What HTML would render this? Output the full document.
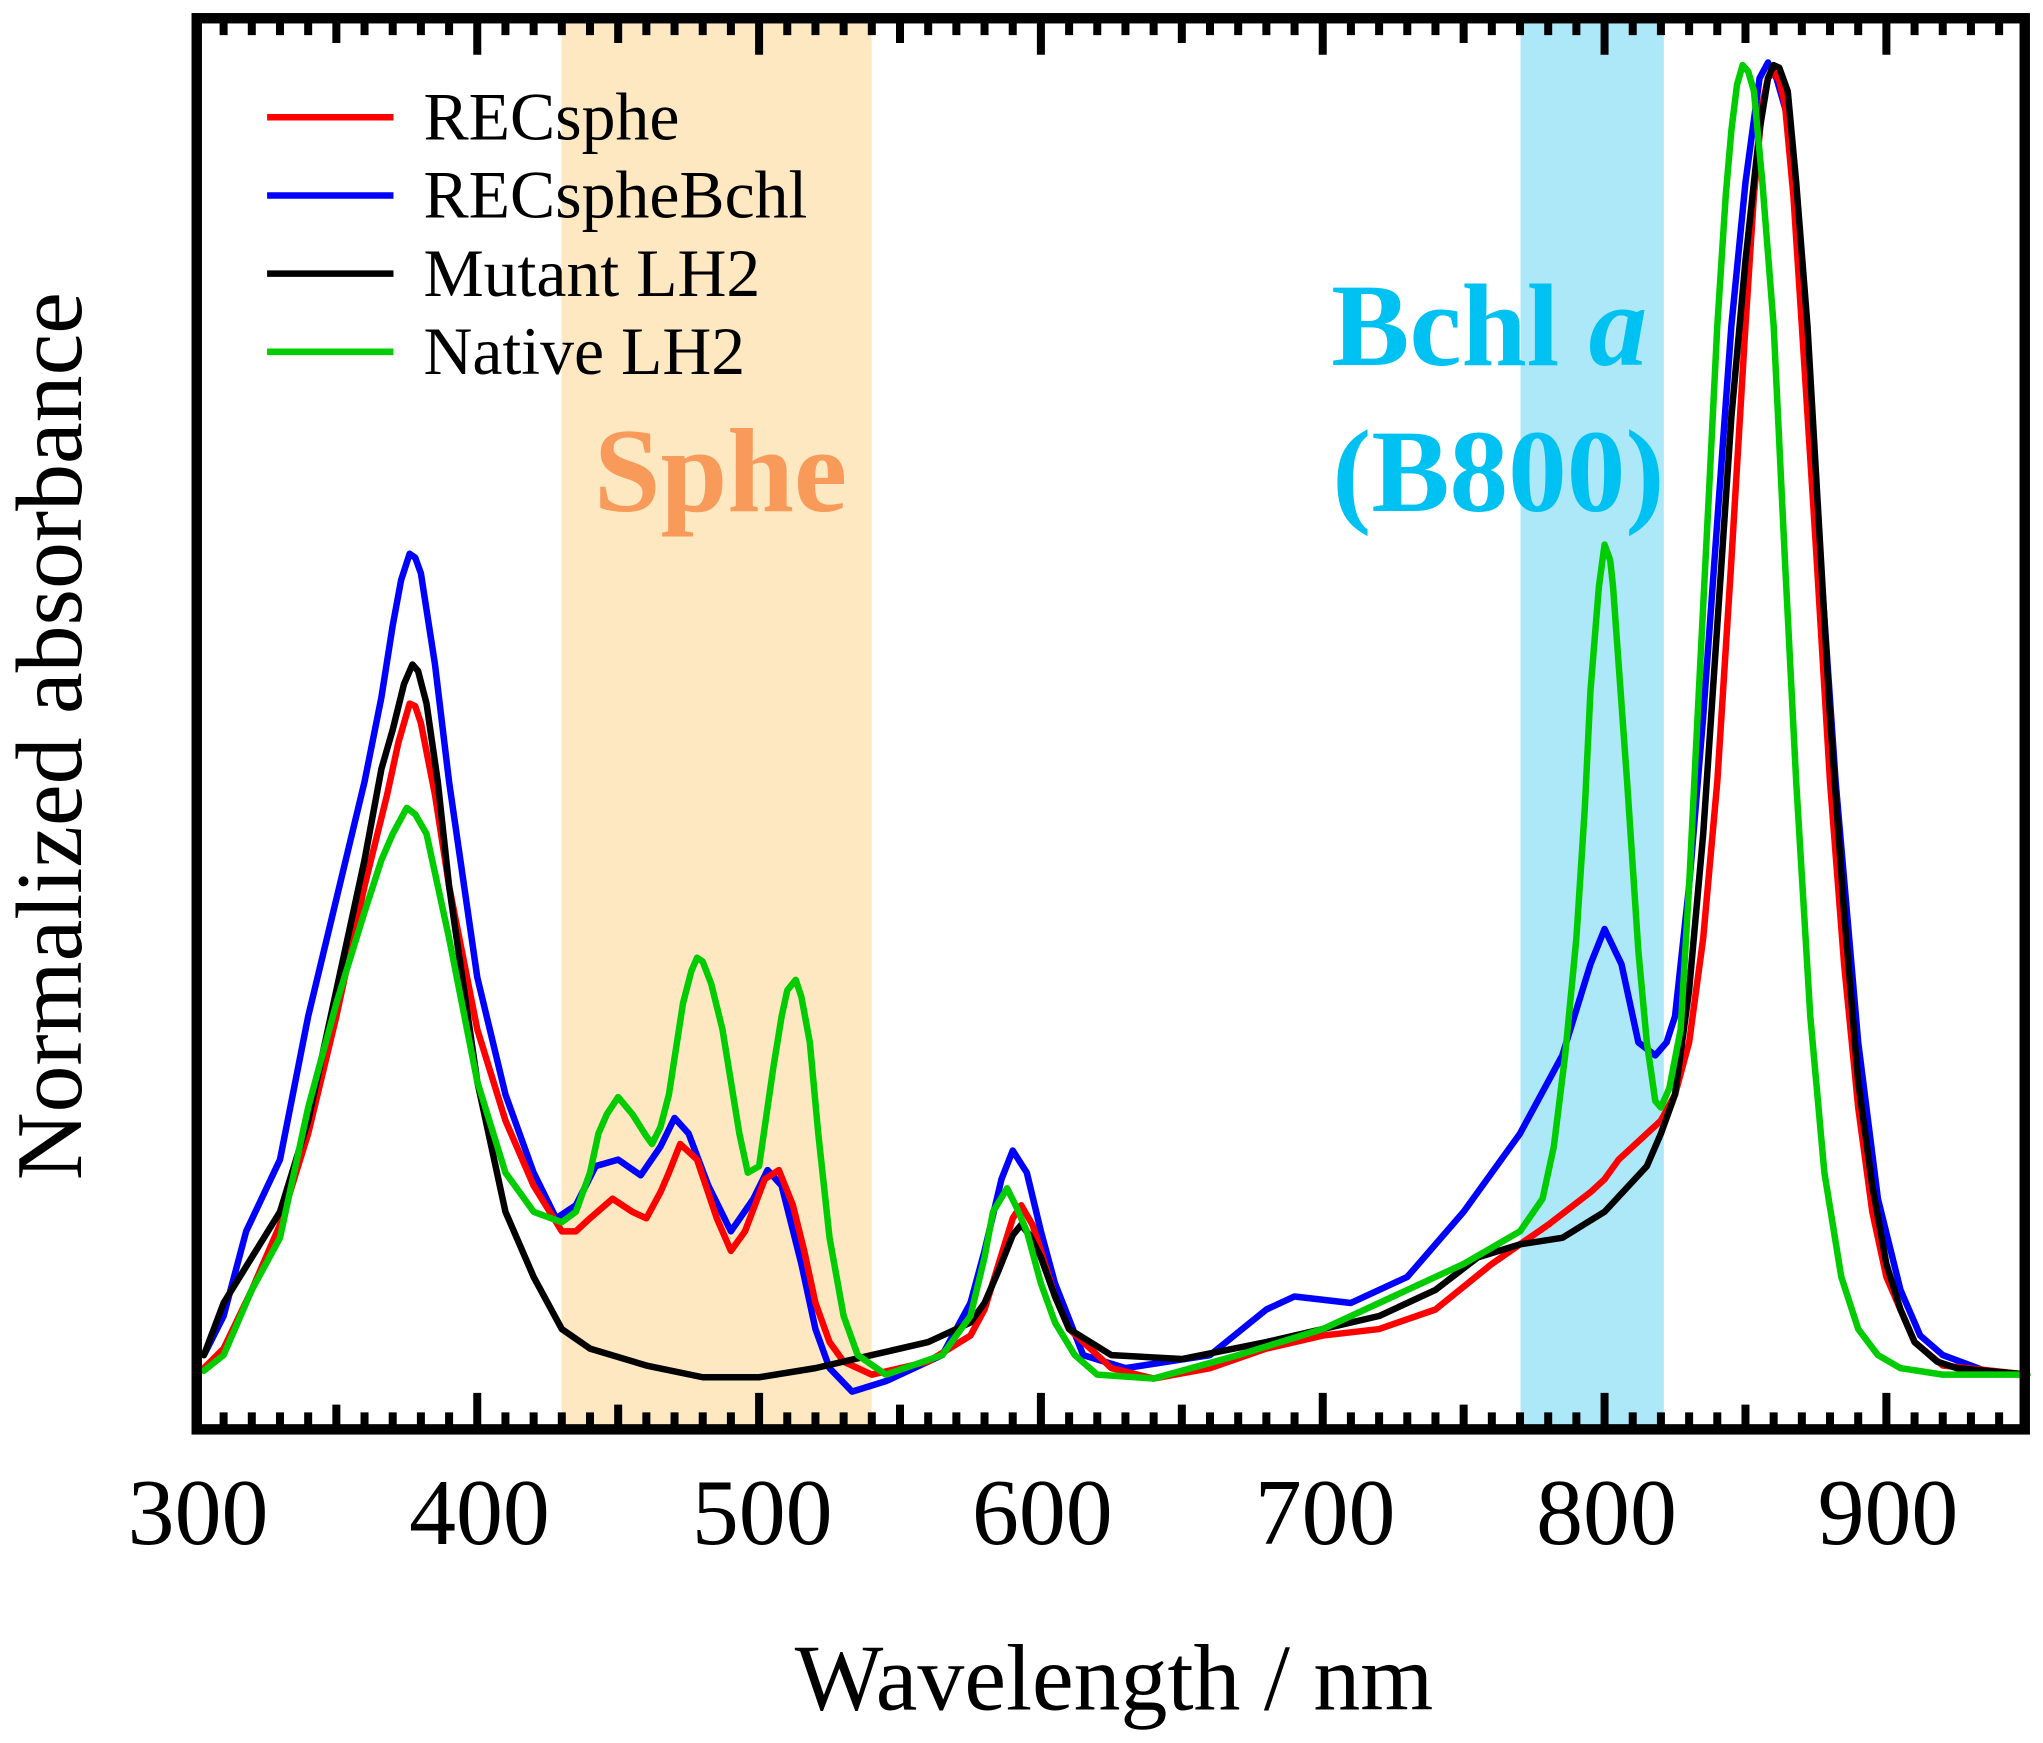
<!DOCTYPE html>
<html><head><meta charset="utf-8"><style>html,body{margin:0;padding:0;background:#fff}svg{display:block}</style></head>
<body>
<svg xmlns="http://www.w3.org/2000/svg" width="2043" height="1743" viewBox="0 0 1568 1337.7" preserveAspectRatio="none" font-family="'Liberation Serif', serif">
<rect x="431" y="14" width="238" height="1080" fill="#fde8c2"/>
<rect x="1167" y="14" width="110" height="1080" fill="#ade8f8"/>
<g transform="matrix(2.163,0,0,1,-498.9,0)" fill="none" stroke-width="6.5" stroke-linejoin="round" stroke-linecap="round">
<polyline vector-effect="non-scaling-stroke" stroke="#00f" points="303,1040 310,1010 318,945 330,890 340,780 350,690 360,600 366,535 370,480 373,445 376,425 378,428 380,440 385,510 390,600 400,750 410,840 420,900 428,935 435,925 442,895 450,890 458,902 465,880 470,858 475,870 482,910 490,945 498,920 503,898 508,910 515,970 520,1020 525,1050 533,1068 545,1060 565,1040 575,1000 580,960 586,905 590,883 595,900 600,945 605,985 615,1040 630,1050 660,1040 680,1005 690,995 710,1000 730,980 750,930 770,870 785,810 790,775 795,740 800,713 806,740 812,800 818,810 822,800 825,780 830,680 835,550 840,400 845,250 850,140 855,60 858,48 861,60 865,90 870,220 875,380 882,600 890,800 897,920 905,990 912,1025 920,1040 935,1052 950,1055"/>
<polyline vector-effect="non-scaling-stroke" stroke="#f00" points="303,1050 310,1035 320,990 330,940 340,870 350,780 360,680 368,610 372,570 376,540 378,542 380,555 385,610 390,680 400,790 410,860 420,910 430,945 435,945 440,935 448,920 455,930 460,935 465,915 468,900 472,878 478,890 485,935 490,960 495,945 502,905 507,898 512,925 516,960 520,1000 525,1030 530,1045 540,1055 560,1045 575,1025 580,1005 585,970 590,935 593,925 597,940 600,960 605,995 610,1020 625,1050 640,1058 660,1050 680,1035 700,1025 720,1020 740,1005 760,970 780,940 795,915 800,905 805,890 810,880 820,860 825,840 830,800 835,720 840,600 845,430 850,250 853,150 856,80 858,60 860,55 862,62 864,80 867,150 870,250 875,420 880,600 885,740 890,850 895,930 900,980 910,1030 920,1048 950,1055"/>
<polyline vector-effect="non-scaling-stroke" stroke="#000" points="303,1040 310,1000 320,965 330,930 340,860 350,760 360,660 366,590 370,560 374,525 377,510 379,515 382,540 386,600 390,680 400,830 410,930 420,980 430,1020 440,1035 460,1048 480,1057 500,1057 520,1050 540,1040 560,1030 575,1015 580,1000 585,975 590,948 593,940 596,948 600,965 605,995 610,1020 625,1040 650,1043 680,1030 700,1020 720,1010 740,990 755,965 770,955 785,950 800,930 815,895 820,870 825,840 830,760 835,640 840,480 845,320 850,200 855,100 858,60 860,50 862,52 865,70 868,140 872,250 876,400 880,550 885,700 890,830 895,910 900,970 905,1005 910,1030 918,1045 925,1050 950,1055"/>
<polyline vector-effect="non-scaling-stroke" stroke="#0c0" points="303,1052 310,1040 320,990 330,950 340,850 350,770 360,700 366,660 370,640 375,620 378,625 382,640 386,680 390,720 400,830 410,900 420,930 430,938 435,930 440,900 443,870 446,855 450,842 455,855 460,872 462,878 465,865 468,840 473,770 476,745 478,735 480,738 483,755 487,790 490,830 493,870 496,900 500,895 503,850 505,820 508,780 510,760 513,752 515,765 518,800 521,870 525,950 530,1010 535,1040 545,1055 565,1040 575,1010 580,965 583,930 588,912 591,925 595,945 600,985 605,1015 612,1040 620,1055 640,1058 670,1040 700,1020 730,990 750,970 770,945 778,920 782,880 786,810 790,720 793,620 795,530 798,450 800,418 802,430 803,450 806,540 808,600 812,730 815,800 818,845 820,850 823,835 827,790 830,680 833,550 837,380 840,250 843,150 845,100 847,65 849,50 851,55 853,70 856,140 860,250 864,430 868,600 873,780 878,900 884,980 890,1020 897,1040 905,1050 920,1055 950,1055"/>
</g>
<g transform="matrix(2.163,0,0,1,-498.9,0)" fill="none" stroke="#000" stroke-width="8">
<path vector-effect="non-scaling-stroke" d="M310,14v13M320,14v13M330,14v13M340,14v13M350,14v19M360,14v13M370,14v13M380,14v13M390,14v13M400,14v28M410,14v13M420,14v13M430,14v13M440,14v13M450,14v19M460,14v13M470,14v13M480,14v13M490,14v13M500,14v28M510,14v13M520,14v13M530,14v13M540,14v13M550,14v19M560,14v13M570,14v13M580,14v13M590,14v13M600,14v28M610,14v13M620,14v13M630,14v13M640,14v13M650,14v19M660,14v13M670,14v13M680,14v13M690,14v13M700,14v28M710,14v13M720,14v13M730,14v13M740,14v13M750,14v19M760,14v13M770,14v13M780,14v13M790,14v13M800,14v28M810,14v13M820,14v13M830,14v13M840,14v13M850,14v19M860,14v13M870,14v13M880,14v13M890,14v13M900,14v28M910,14v13M920,14v13M930,14v13M940,14v13
M310,1097v-13M320,1097v-13M330,1097v-13M340,1097v-13M350,1097v-19M360,1097v-13M370,1097v-13M380,1097v-13M390,1097v-13M400,1097v-28M410,1097v-13M420,1097v-13M430,1097v-13M440,1097v-13M450,1097v-19M460,1097v-13M470,1097v-13M480,1097v-13M490,1097v-13M500,1097v-28M510,1097v-13M520,1097v-13M530,1097v-13M540,1097v-13M550,1097v-19M560,1097v-13M570,1097v-13M580,1097v-13M590,1097v-13M600,1097v-28M610,1097v-13M620,1097v-13M630,1097v-13M640,1097v-13M650,1097v-19M660,1097v-13M670,1097v-13M680,1097v-13M690,1097v-13M700,1097v-28M710,1097v-13M720,1097v-13M730,1097v-13M740,1097v-13M750,1097v-19M760,1097v-13M770,1097v-13M780,1097v-13M790,1097v-13M800,1097v-28M810,1097v-13M820,1097v-13M830,1097v-13M840,1097v-13M850,1097v-19M860,1097v-13M870,1097v-13M880,1097v-13M890,1097v-13M900,1097v-28M910,1097v-13M920,1097v-13M930,1097v-13M940,1097v-13"/>
</g>
<rect x="151" y="14" width="1403" height="1083" fill="none" stroke="#000" stroke-width="8"/>
<g font-size="52" fill="#000">
<line x1="205" y1="90" x2="302" y2="90" stroke="#f00" stroke-width="5"/>
<text x="325" y="107">RECsphe</text>
<line x1="205" y1="150" x2="302" y2="150" stroke="#00f" stroke-width="5"/>
<text x="325" y="167">RECspheBchl</text>
<line x1="205" y1="210" x2="302" y2="210" stroke="#000" stroke-width="5"/>
<text x="325" y="227">Mutant LH2</text>
<line x1="205" y1="270" x2="302" y2="270" stroke="#0c0" stroke-width="5"/>
<text x="325" y="287">Native LH2</text>
</g>
<text x="553" y="392" font-size="92" font-weight="bold" fill="#f79a5a" text-anchor="middle">Sphe</text>
<text x="1143" y="280" font-size="90" font-weight="bold" fill="#00c2f2" text-anchor="middle">Bchl <tspan font-style="italic">a</tspan></text>
<text x="1150" y="392" font-size="90" font-weight="bold" fill="#00c2f2" text-anchor="middle">(B800)</text>
<g font-size="72" text-anchor="middle" fill="#000">
<text x="152" y="1185">300</text><text x="368" y="1185">400</text><text x="585" y="1185">500</text><text x="800" y="1185">600</text><text x="1017" y="1185">700</text><text x="1233" y="1185">800</text><text x="1449" y="1185">900</text>
</g>
<text x="855" y="1312" font-size="72" text-anchor="middle">Wavelength / nm</text>
<text transform="translate(62,565) rotate(-90)" font-size="72" text-anchor="middle">Normalized absorbance</text>
</svg>
</body></html>
